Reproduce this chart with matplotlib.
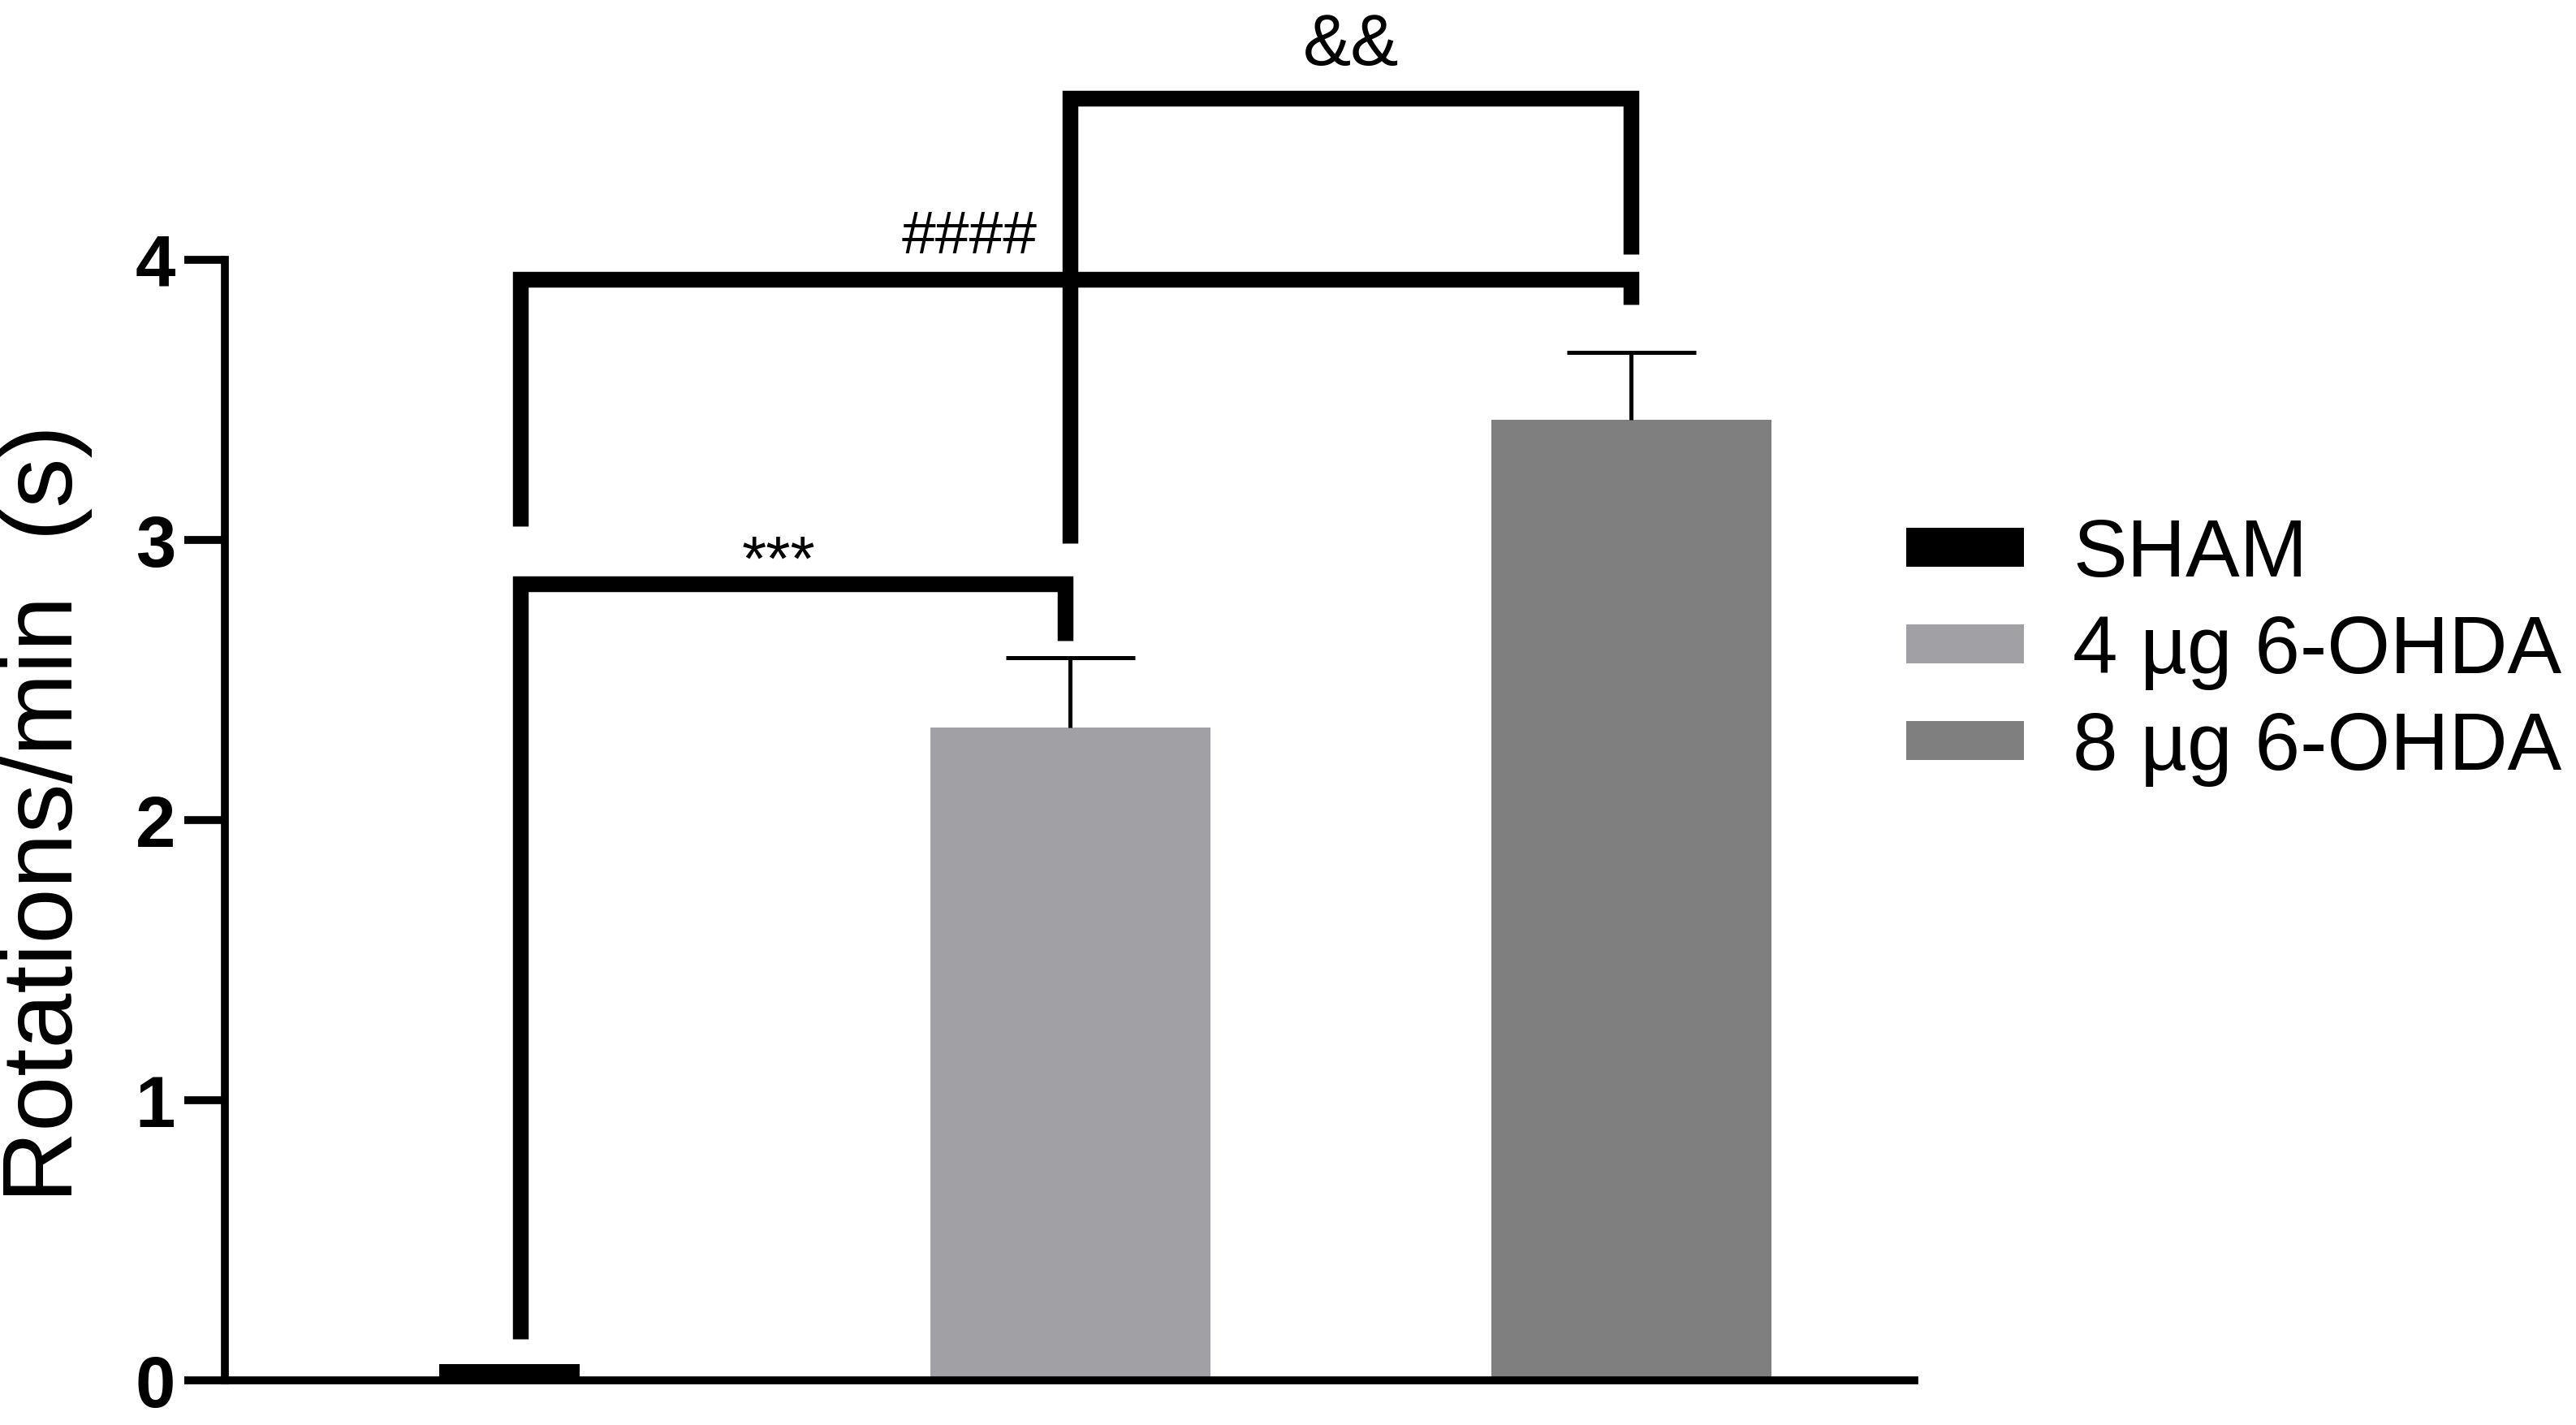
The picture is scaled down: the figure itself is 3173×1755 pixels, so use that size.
import matplotlib
matplotlib.use("Agg")
import matplotlib.pyplot as plt
from matplotlib.patches import Patch

plt.rcParams['font.family'] = ['Liberation Sans', 'DejaVu Sans']

# data
groups = ['SHAM', '4 µg 6-OHDA', '8 µg 6-OHDA']
means = [0.06, 2.33, 3.43]
sem = [0.0, 0.25, 0.24]
colors = ['#000000', '#a0a0a5', '#7f7f7f']
widths = [0.25, 0.5, 0.5]
xpos = [0, 1, 2]

# significance brackets: x left, x right, y top, left leg end, right leg end
brackets = [
    (0.02, 0.99, 2.845, 0.15, 2.64),
    (0.02, 2.00, 3.93, 3.05, 3.84),
    (1.00, 2.00, 4.575, 2.99, 4.02),
]
stars = ['***', '####', '&&']
star_pos = [(0.48, 2.81), (0.82, 3.98), (1.5, 4.64)]
star_size = [28, 27, 32]

fig = plt.figure(figsize=(15.865, 8.775), dpi=200)
ax = fig.add_axes([0.0874, 0.0311, 0.6556, 0.9689])

ax.bar(xpos, means, width=widths, color=colors, edgecolor='none', zorder=2)

# upper error bars only (no cap at the bar top)
for x, m, e in zip(xpos, means, sem):
    if e > 0:
        ax.vlines(x, m, m + e, color='black', lw=1.8, zorder=3)
        ax.hlines(m + e, x - 0.115, x + 0.115, color='black', lw=1.8, zorder=3)

for (x1, x2, yt, yl, yr) in brackets:
    ax.plot([x1, x1, x2, x2], [yl, yt, yt, yr], color='black', lw=7,
            solid_capstyle='butt', solid_joinstyle='miter', zorder=4)

for s, (sx, sy), fs in zip(stars, star_pos, star_size):
    ax.text(sx, sy, s, ha='center', va='bottom', fontsize=fs)

ax.set_xlim(-0.507, 2.504)
ax.set_ylim(0, 4.927)
ax.set_yticks([0, 1, 2, 3, 4])
ax.set_xticks([])
ax.spines['top'].set_visible(False)
ax.spines['right'].set_visible(False)
ax.spines['left'].set_bounds(0, 4)
ax.spines['left'].set_linewidth(3.5)
ax.spines['bottom'].set_linewidth(3.5)
ax.tick_params(axis='y', length=18, width=3.5, pad=4, labelsize=32)
for lab in ax.get_yticklabels():
    lab.set_fontweight('bold')

fig.text(0.0179, 0.429, 'Rotations/min  (s)', rotation=90, ha='center',
         va='center', fontsize=44)

handles = [Patch(facecolor=c, edgecolor='none') for c in colors]
fig.legend(handles, groups, loc='upper left', bbox_to_anchor=(0.740, 0.637),
           frameon=False, fontsize=36, borderpad=0, borderaxespad=0,
           handlelength=1.45, handleheight=0.36, handletextpad=0.6,
           labelspacing=0.25)

fig.savefig('out.png', dpi=200)
